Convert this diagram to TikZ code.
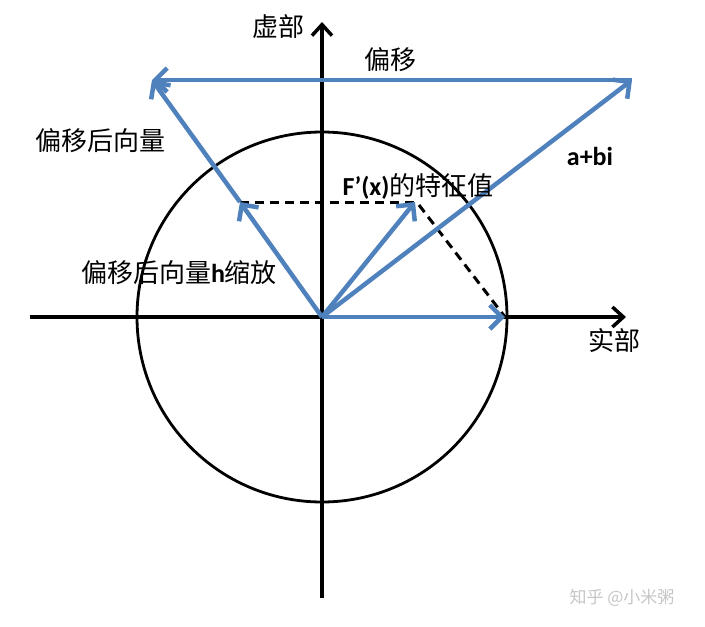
\documentclass[tikz,border=0pt]{standalone}
\usepackage{fontspec}
\setmainfont{Carlito}
\newfontfamily\cjk{Noto Sans CJK SC}
\usetikzlibrary{arrows.meta}
\definecolor{vecblue}{RGB}{79,129,189}
\newcommand\latbf[2][24]{{\normalfont\bfseries\fontsize{#1}{#1}\selectfont #2}}
\tikzset{
  axis/.style={line width=3.5pt,-{Straight Barb[length=11pt,width=20pt,line width=3.5pt]}},
  vec/.style={vecblue,line width=4.5pt,-{Straight Barb[length=12pt,width=24pt,line width=4.5pt]}},
  guide/.style={line width=3pt,dash pattern=on 9pt off 6pt},
  lbl/.style={font=\cjk\fontsize{26}{28}\selectfont,inner sep=0pt},
}
\begin{document}
\begin{tikzpicture}[x=1pt,y=-1pt]
\useasboundingbox (0,0) rectangle (705,627);
\coordinate (O) at (322,317);
\coordinate (R) at (505,317);
\coordinate (E) at (415,202);
\coordinate (Z) at (632,80);
\coordinate (S) at (152,80);
\coordinate (H) at (240,202);
\coordinate (xl) at (30,317);
\coordinate (xr) at (626,317);
\coordinate (yb) at (322,598);
\coordinate (yt) at (322,22);
% axes and unit circle
\draw[line width=2.8pt] (O) circle[radius=185pt];
\draw[axis] (xl) -- (xr);
\draw[axis] (yb) -- (yt);
% dashed guides
\draw[guide] (H) -- (E);
\draw[guide] (E) ++(4,3) -- (R);
% vectors
\draw[vec] (O) -- (R);
\draw[vec] (O) -- (E);
\draw[vec] (O) -- (Z);
\draw[vec] (Z) -- (S);
\draw[vec] (O) -- (H);
\draw[vec] (H) -- (S);
% labels
\node[lbl] (imag) at (278,27) {虚部};
\node[lbl] (real) at (614,340) {实部};
\node[lbl] (shift) at (390,60) {偏移};
\node[lbl] (shifted) at (100,141) {偏移后向量};
\node[lbl] (scaled) at (179,273) {偏移后向量\latbf[26]{h}缩放};
\node[lbl] (eig) at (418,186) {\latbf[26]{F’(x)}的特征值};
\node[inner sep=0pt] (abi) at (590,156) {\latbf[26]{a+bi}};
\node[font=\cjk\fontsize{17}{19}\selectfont,text=gray!45,inner sep=0pt] (mark) at (622,598) {知乎 @小米粥};
\end{tikzpicture}
\end{document}
